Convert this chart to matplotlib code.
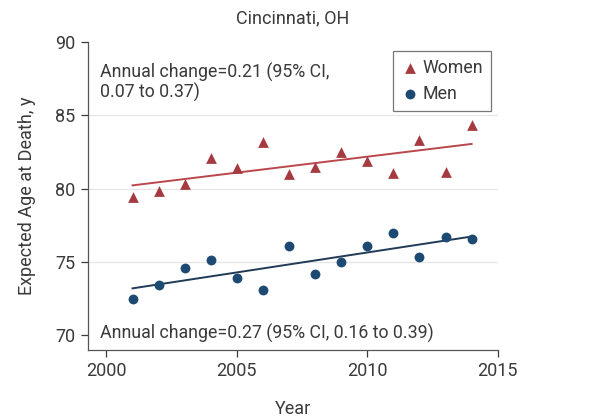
import numpy as np
import matplotlib
matplotlib.use("Agg")
import matplotlib.pyplot as plt

years = [2001, 2002, 2003, 2004, 2005, 2006, 2007, 2008, 2009, 2010, 2011, 2012, 2013, 2014]
women = [79.4, 79.8, 80.3, 82.1, 81.4, 83.2, 81.0, 81.45, 82.5, 81.85, 81.05, 83.3, 81.1, 84.35]
men = [72.5, 73.4, 74.55, 75.1, 73.9, 73.1, 76.1, 74.2, 75.0, 76.05, 76.95, 75.35, 76.7, 76.55]
women_note = "Annual change=0.21 (95% CI,\n0.07 to 0.37)"
men_note = "Annual change=0.27 (95% CI, 0.16 to 0.39)"
xticks = [2000, 2005, 2010, 2015]
yticks = [70, 75, 80, 85, 90]

plt.rcParams['font.family'] = ['Roboto', 'DejaVu Sans']

fig = plt.figure(figsize=(6.04, 4.19), dpi=100)
ax = fig.add_axes([0.146, 0.165, 0.678, 0.735])

women_c = "#a53a40"
men_c = "#1d4a73"
text_c = "#3a3a3a"

yr = np.array(years, dtype=float)
for vals, lc in [(women, "#b9474c"), (men, "#213a55")]:
    k, b = np.polyfit(yr, vals, 1)
    ax.plot([yr[0], yr[-1]], [k * yr[0] + b, k * yr[-1] + b], color=lc, lw=1.4, zorder=2)

ax.scatter(years, women, marker="^", s=60, color=women_c, label="Women", zorder=3, linewidths=0)
ax.scatter(years, men, marker="o", s=50, color=men_c, label="Men", zorder=3, linewidths=0)

ax.set_xlim(1999.3, 2015)
ax.set_ylim(69, 90)
ax.set_xticks(xticks)
ax.set_yticks(yticks)
ax.tick_params(labelsize=13, colors=text_c, length=5, width=0.9, direction="out", pad=4)
for y in yticks[1:-1]:
    ax.axhline(y, color="#e6e6e6", lw=0.9, zorder=0)
for s in ["top", "right"]:
    ax.spines[s].set_visible(False)
for s in ["left", "bottom"]:
    ax.spines[s].set_color("#555555")
    ax.spines[s].set_linewidth(0.9)

ax.set_title("Cincinnati, OH", fontsize=13, color=text_c, pad=13)
ax.set_xlabel("Year", fontsize=13, color=text_c, labelpad=14)
ax.set_ylabel("Expected Age at Death, y", fontsize=13, color=text_c, labelpad=14)

ax.text(1999.75, 88.6, women_note, fontsize=12.8, color=text_c, va="top", ha="left", linespacing=1.1)
ax.text(1999.75, 70.1, men_note, fontsize=12.8, color=text_c, va="center", ha="left")

leg = ax.legend(loc="upper right", bbox_to_anchor=(1.005, 1.0), fontsize=12.8, frameon=True,
                fancybox=False, handletextpad=0.2, handlelength=1.0, borderpad=0.45, labelspacing=0.45)
leg.get_frame().set_edgecolor("#555555")
leg.get_frame().set_linewidth(0.9)
for t in leg.get_texts():
    t.set_color(text_c)

fig.savefig("out.png", dpi=100)
